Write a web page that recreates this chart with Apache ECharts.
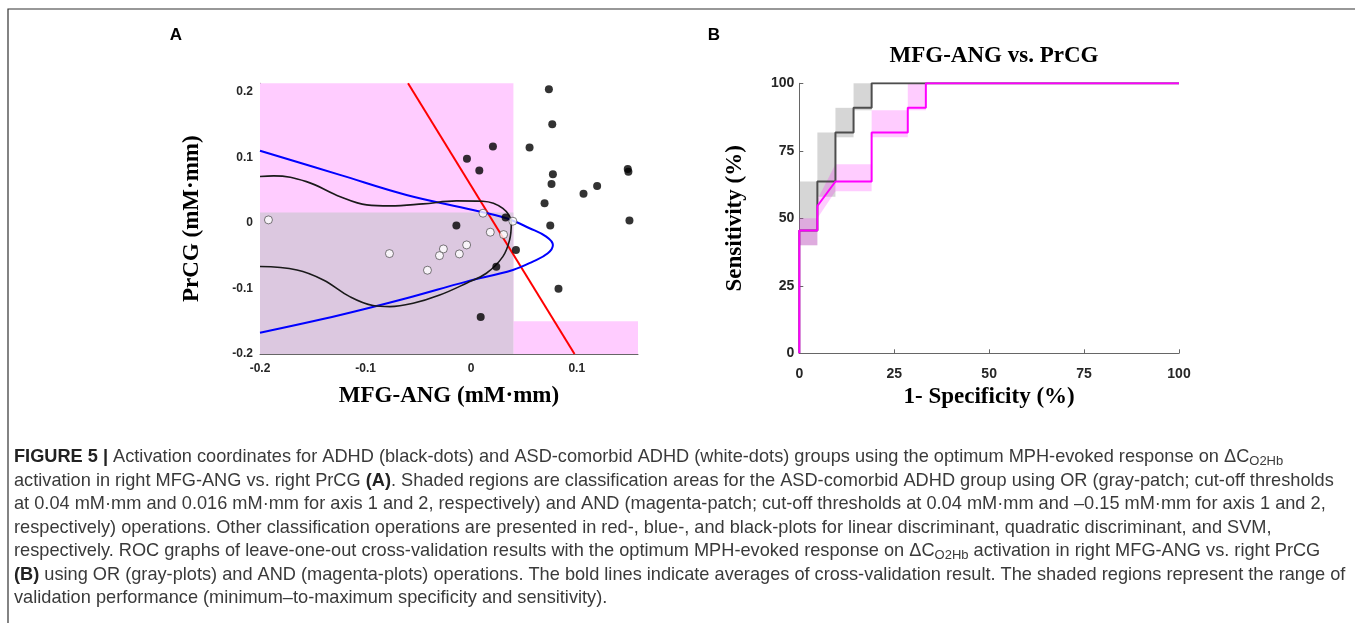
<!DOCTYPE html>
<html>
<head>
<meta charset="utf-8">
<script src="https://cdn.jsdelivr.net/npm/echarts@6/dist/echarts.min.js"></script>
<style>
html,body{margin:0;padding:0;background:#fff;}
#c{width:1355px;height:623px;}
</style>
</head>
<body>
<div id="c"></div>
<script>
// ---------- Panel A data ----------
const xTicksA = [-0.2, -0.1, 0, 0.1];
const yTicksA = [-0.2, -0.1, 0, 0.1, 0.2];
const xRangeA = [-0.2, 0.158];
const yRangeA = [-0.2, 0.213];
// cut-off thresholds [axis1, axis2]
const orCut = [0.04, 0.016];
const andCut = [0.04, -0.15];
// ADHD (black dots)
const adhdPoints = [
  [0.0736, 0.204], [0.0768, 0.1507], [0.0206, 0.1165], [0.0553, 0.115],
  [-0.004, 0.0977], [0.0077, 0.080], [0.0774, 0.0743], [0.0761, 0.0595],
  [0.1483, 0.0824], [0.1489, 0.0779], [0.1193, 0.0565], [0.1064, 0.0443],
  [0.0695, 0.030], [0.0326, 0.0081], [0.1499, 0.0035], [-0.014, -0.0041],
  [0.0749, -0.0041], [0.0424, -0.0412], [0.0238, -0.0667], [0.0827, -0.1003],
  [0.009, -0.1435]
];
// ASD-comorbid ADHD (white dots)
const asdPoints = [
  [-0.192, 0.0046], [0.0112, 0.0148], [0.0395, 0.0026], [0.0181, -0.0142],
  [0.0307, -0.0178], [-0.0774, -0.0468], [-0.0263, -0.0397], [-0.030, -0.0499],
  [-0.0112, -0.0473], [-0.0043, -0.0336], [-0.0414, -0.0722]
];
// linear discriminant (red)
const ldaLine = [[-0.0598, 0.213], [0.0979, -0.2]];
// quadratic discriminant (blue)
const qdaCurve = [
  [-0.2, 0.110], [-0.1243, 0.0733], [-0.0613, 0.0427], [0.0017, 0.0198],
  [0.0333, 0.0071], [0.0553, -0.0081], [0.0711, -0.0209], [0.0774, -0.0336],
  [0.0726, -0.0463], [0.0584, -0.059], [0.0395, -0.0718], [-0.0045, -0.0896],
  [-0.0613, -0.115], [-0.124, -0.1405], [-0.2, -0.1675]
];
// SVM (black)
const svmCurve = [
  [-0.2, 0.0707], [-0.187, 0.0718], [-0.156, 0.063], [-0.124, 0.040],
  [-0.099, 0.0275], [-0.077, 0.026], [-0.0456, 0.029], [-0.014, 0.0336],
  [0.011, 0.033], [0.030, 0.022], [0.038, -0.0005], [0.0364, -0.026],
  [0.030, -0.0514], [0.0144, -0.0768], [-0.0045, -0.092], [-0.0298, -0.110],
  [-0.055, -0.1226], [-0.077, -0.1277], [-0.093, -0.126], [-0.115, -0.1125],
  [-0.140, -0.087], [-0.165, -0.0718], [-0.2, -0.0666]
];

// ---------- Panel B data ----------
const xTicksB = [0, 25, 50, 75, 100];
const yTicksB = [0, 25, 50, 75, 100];
const rocOrX  = [0, 0, 4.76, 4.76, 9.52, 9.52, 14.29, 14.29, 19.05, 19.05, 100];
const rocOrY  = [0, 45.45, 45.45, 63.64, 63.64, 81.82, 81.82, 90.91, 90.91, 100, 100];
const rocAndX = [0, 0, 4.76, 4.76, 9.52, 19.05, 19.05, 28.57, 28.57, 33.33, 33.33, 100];
const rocAndY = [0, 45.45, 45.45, 54.55, 63.64, 63.64, 81.82, 81.82, 90.91, 90.91, 100, 100];
// range patches (polygons in % units)
const orRange = [
  [[0, 40], [4.76, 40], [4.76, 63.64], [0, 63.64]],
  [[4.76, 58], [9.52, 58], [9.52, 81.82], [4.76, 81.82]],
  [[9.52, 80], [14.29, 80], [14.29, 90.91], [9.52, 90.91]],
  [[14.29, 90], [19.05, 90], [19.05, 100], [14.29, 100]]
];
const andRange = [
  [[0, 40], [4.76, 40], [4.76, 50], [0, 50]],
  [[4.76, 50], [9.52, 60], [9.52, 70], [4.76, 57]],
  [[9.52, 60], [19.05, 60], [19.05, 70], [9.52, 70]],
  [[19.05, 80], [28.57, 80], [28.57, 90], [19.05, 90]],
  [[28.57, 90], [33.33, 90], [33.33, 100], [28.57, 100]]
];

// ---------- caption ----------
const captionLines = [
  '{b|FIGURE 5 |} Activation coordinates for ADHD (black-dots) and ASD-comorbid ADHD (white-dots) groups using the optimum MPH-evoked response on ΔC{sub|O2Hb}',
  'activation in right MFG-ANG vs. right PrCG {b|(A)}. Shaded regions are classification areas for the ASD-comorbid ADHD group using OR (gray-patch; cut-off thresholds',
  'at 0.04 mM·mm and 0.016 mM·mm for axis 1 and 2, respectively) and AND (magenta-patch; cut-off thresholds at 0.04 mM·mm and –0.15 mM·mm for axis 1 and 2,',
  'respectively) operations. Other classification operations are presented in red-, blue-, and black-plots for linear discriminant, quadratic discriminant, and SVM,',
  'respectively. ROC graphs of leave-one-out cross-validation results with the optimum MPH-evoked response on ΔC{sub|O2Hb} activation in right MFG-ANG vs. right PrCG',
  '{b|(B)} using OR (gray-plots) and AND (magenta-plots) operations. The bold lines indicate averages of cross-validation result. The shaded regions represent the range of',
  'validation performance (minimum–to-maximum specificity and sensitivity).'
];

// ---------- build ----------
const pinkA = [
  [xRangeA[0], andCut[0], yRangeA[0], yRangeA[1]],
  [andCut[0], xRangeA[1], yRangeA[0], andCut[1]]
];
const grayA = [[xRangeA[0], orCut[0], yRangeA[0], orCut[1]]];

function rectSeries(rects, color, xi, yi, z) {
  return {
    type: 'custom', xAxisIndex: xi, yAxisIndex: yi, z: z, silent: true,
    data: rects.map(r => [r[0], r[2]]),
    renderItem: function (params, api) {
      const r = rects[params.dataIndex];
      const p0 = api.coord([r[0], r[3]]);
      const p1 = api.coord([r[1], r[2]]);
      return { type: 'rect', shape: { x: p0[0], y: p0[1], width: p1[0] - p0[0], height: p1[1] - p0[1] }, style: { fill: color } };
    }
  };
}
function polySeries(polys, color, xi, yi, z) {
  return {
    type: 'custom', xAxisIndex: xi, yAxisIndex: yi, z: z, silent: true,
    data: polys.map(p => p[0]),
    renderItem: function (params, api) {
      const pts = polys[params.dataIndex].map(v => api.coord(v));
      return { type: 'polygon', shape: { points: pts }, style: { fill: color } };
    }
  };
}
const zip = (xs, ys) => xs.map((x, i) => [x, ys[i]]);
const fmt = v => (Math.abs(v) < 1e-9 ? '0' : (Math.round(v * 10) / 10).toString());

const axisLineStyle = { show: true, onZero: false, lineStyle: { color: '#666', width: 1 } };
const sansBold = { fontFamily: 'Liberation Sans', fontWeight: 'bold', color: '#262626' };
const serifName = { fontFamily: 'Liberation Serif', fontWeight: 'bold', fontSize: 23, color: '#000' };

const option = {
  animation: false,
  backgroundColor: '#fff',
  grid: [
    { left: 260, top: 83.3, width: 378, height: 270.7 },
    { left: 799.3, top: 83.3, width: 379.7, height: 270 }
  ],
  xAxis: [
    {
      gridIndex: 0, type: 'value', min: xRangeA[0], max: xRangeA[1],
      axisLine: axisLineStyle, splitLine: { show: false },
      axisTick: { inside: true, length: 4, customValues: xTicksA, lineStyle: { color: '#666' } },
      axisLabel: Object.assign({ fontSize: 12, margin: 9, customValues: xTicksA, formatter: fmt }, sansBold),
      name: 'MFG-ANG (mM·mm)', nameLocation: 'middle', nameGap: 31, nameTextStyle: serifName
    },
    {
      gridIndex: 1, type: 'value', min: 0, max: 100, interval: 25,
      axisLine: axisLineStyle, splitLine: { show: false },
      axisTick: { inside: true, length: 4, lineStyle: { color: '#666' } },
      axisLabel: Object.assign({ fontSize: 14, margin: 14, customValues: xTicksB }, sansBold),
      name: '1- Specificity (%)', nameLocation: 'middle', nameGap: 32, nameTextStyle: serifName
    }
  ],
  yAxis: [
    {
      gridIndex: 0, type: 'value', min: yRangeA[0], max: yRangeA[1],
      axisLine: axisLineStyle, splitLine: { show: false },
      axisTick: { show: true, inside: true, length: 4, customValues: yTicksA, lineStyle: { color: '#666' } },
      axisLabel: Object.assign({ fontSize: 12, margin: 7, customValues: yTicksA, formatter: fmt }, sansBold),
      name: 'PrCG (mM·mm)', nameLocation: 'middle', nameGap: 56, nameTextStyle: serifName
    },
    {
      gridIndex: 1, type: 'value', min: 0, max: 100, interval: 25,
      axisLine: axisLineStyle, splitLine: { show: false },
      axisTick: { show: true, inside: true, length: 4, lineStyle: { color: '#666' } },
      axisLabel: Object.assign({ fontSize: 14, margin: 5, customValues: yTicksB }, sansBold),
      name: 'Sensitivity (%)', nameLocation: 'middle', nameGap: 53, nameTextStyle: serifName
    }
  ],
  series: [
    rectSeries(pinkA, '#ffccff', 0, 0, 1),
    rectSeries(grayA, '#dcc8e0', 0, 0, 2),
    { type: 'line', xAxisIndex: 0, yAxisIndex: 0, data: ldaLine, showSymbol: false, lineStyle: { color: '#ff0000', width: 2 }, z: 3 },
    { type: 'line', xAxisIndex: 0, yAxisIndex: 0, data: qdaCurve, smooth: 0.4, showSymbol: false, lineStyle: { color: '#0000ff', width: 2 }, z: 3 },
    { type: 'line', xAxisIndex: 0, yAxisIndex: 0, data: svmCurve, smooth: 0.4, showSymbol: false, lineStyle: { color: '#1a1a1a', width: 1.6 }, z: 3 },
    { type: 'scatter', xAxisIndex: 0, yAxisIndex: 0, data: adhdPoints, symbolSize: 8, itemStyle: { color: '#000' }, z: 5 },
    { type: 'scatter', xAxisIndex: 0, yAxisIndex: 0, data: asdPoints, symbolSize: 8, itemStyle: { color: '#fff', borderColor: '#333', borderWidth: 0.8 }, z: 5 },

    polySeries(orRange, 'rgba(128,128,128,0.32)', 1, 1, 1),
    polySeries(andRange, 'rgba(255,0,255,0.2)', 1, 1, 2),
    { type: 'line', xAxisIndex: 1, yAxisIndex: 1, data: zip(rocOrX, rocOrY), showSymbol: false, lineStyle: { color: '#4d4d4d', width: 2 }, z: 3 },
    { type: 'line', xAxisIndex: 1, yAxisIndex: 1, data: zip(rocAndX, rocAndY), showSymbol: false, lineStyle: { color: '#ff00ff', width: 2 }, z: 4 }
  ],
  graphic: [
    { type: 'rect', shape: { x: 8, y: 9, width: 1500, height: 800 }, style: { fill: 'none', stroke: '#333', lineWidth: 1.2 }, z: 0 },
    { type: 'text', x: 176, y: 35, style: { text: 'A', font: 'bold 17px "Liberation Sans"', fill: '#000', textAlign: 'center', textVerticalAlign: 'middle' } },
    { type: 'text', x: 714, y: 35, style: { text: 'B', font: 'bold 17px "Liberation Sans"', fill: '#000', textAlign: 'center', textVerticalAlign: 'middle' } },
    { type: 'text', x: 994, y: 56, style: { text: 'MFG-ANG vs. PrCG', font: 'bold 23px "Liberation Serif"', fill: '#000', textAlign: 'center', textVerticalAlign: 'middle' } }
  ].concat(captionLines.map((t, i) => ({
    type: 'text', x: 14, y: 457 + i * 23.5,
    style: {
      text: t, fontFamily: 'Liberation Sans', fontSize: 18.2, fill: '#3a3a3a',
      textVerticalAlign: 'middle',
      rich: {
        b: { fontFamily: 'Liberation Sans', fontSize: 18.2, fontWeight: 'bold', fill: '#222' },
        sub: { fontFamily: 'Liberation Sans', fontSize: 13, fill: '#3a3a3a', padding: [9, 0, 0, 0] }
      }
    }
  })))
};

const chart = echarts.init(document.getElementById('c'), null, { renderer: 'canvas' });
chart.setOption(option);
</script>
</body>
</html>
